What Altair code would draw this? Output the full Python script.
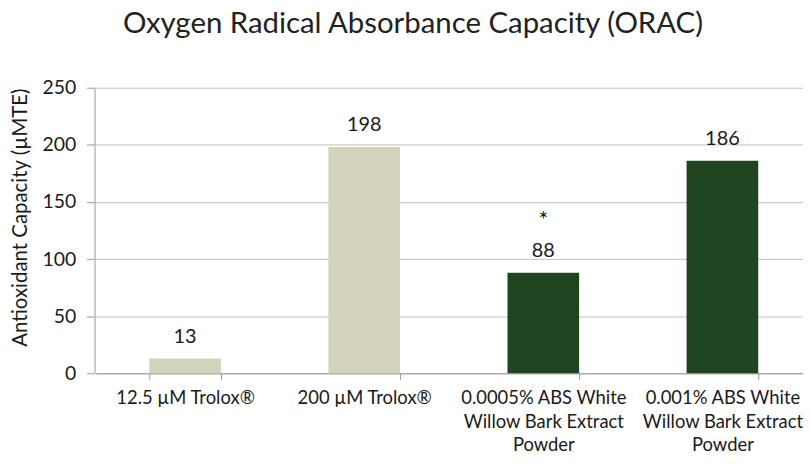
import altair as alt
import pandas as pd

categories = [
    "12.5 µM Trolox®",
    "200 µM Trolox®",
    "0.0005% ABS White\nWillow Bark Extract\nPowder",
    "0.001% ABS White\nWillow Bark Extract\nPowder",
]
values = [13, 198, 88, 186]
colors = ["#d3d3bc", "#d3d3bc", "#1e4420", "#1e4420"]
annotations = ["", "", "*", ""]
y_ticks = [0, 50, 100, 150, 200, 250]

df = pd.DataFrame({"cat": categories, "val": values, "color": colors, "star": annotations})

FONT = "Lato"

x = alt.X(
    "cat:N",
    sort=categories,
    title=None,
    scale=alt.Scale(paddingInner=0.6, paddingOuter=0.3, range=[1, 721]),
    axis=alt.Axis(
        labelExpr="split(datum.label, '\\n')",
        labelAngle=0,
        labelFont=FONT,
        labelFontSize=18.5,
        labelColor="#1a1a1a",
        labelLineHeight=24,
        labelPadding=9,
        labelLimit=300,
        tickBand="extent",
        tickSize=6,
        tickColor="#999999",
        domainColor="#999999",
        grid=False,
    ),
)

y = alt.Y(
    "val:Q",
    scale=alt.Scale(domain=[0, 250], nice=False),
    axis=alt.Axis(
        values=y_ticks,
        title="Antioxidant Capacity (µMTE)",
        titleFont=FONT,
        titleFontSize=20.5,
        titleFontWeight="normal",
        titleColor="#1a1a1a",
        titleX=-74,
        titleY=130,
        titleAngle=270,
        titleAlign="center",
        titleBaseline="middle",
        labelFont=FONT,
        labelFontSize=19.5,
        labelColor="#1a1a1a",
        labelPadding=11,
        tickSize=8,
        tickColor="#999999",
        domainColor="#999999",
        gridColor="#bfbfbf",
    ),
)

bars = alt.Chart(df).mark_bar().encode(
    x=x, y=y, color=alt.Color("color:N", scale=None)
)

labels = alt.Chart(df).mark_text(
    font=FONT, fontSize=20, color="#1a1a1a", baseline="bottom", dy=-12
).encode(x=alt.X("cat:N", sort=categories), y="val:Q", text="val:Q")

stars = alt.Chart(df).mark_text(
    font=FONT, fontSize=23, color="#1a1a1a", baseline="bottom", dy=-40
).encode(x=alt.X("cat:N", sort=categories), y="val:Q", text="star:N")

chart = (
    alt.layer(bars, labels, stars)
    .properties(
        width=712,
        height=287,
        title=alt.TitleParams(
            "Oxygen Radical Absorbance Capacity (ORAC)",
            font=FONT,
            fontSize=29.5,
            fontWeight="normal",
            color="#222222",
            anchor="middle",
            dx=-36,
            offset=38,
        ),
        autosize="none",
        padding={"left": 87, "top": 79, "right": 0, "bottom": 82},
    )
    .configure_view(stroke=None)
)

chart.save("out.html", embed_options={"renderer": "svg", "actions": False})
